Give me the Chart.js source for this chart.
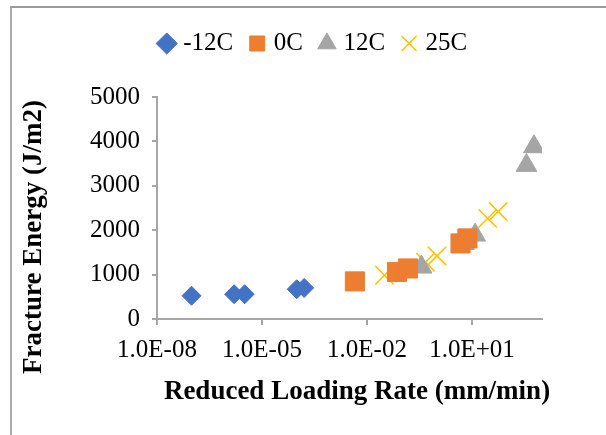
<!DOCTYPE html>
<html lang="en">
<head>
<meta charset="utf-8">
<title>Fracture Energy vs Reduced Loading Rate</title>
<script src="https://cdn.jsdelivr.net/npm/chart.js"></script>
<style>
  body { margin: 0; background: #ffffff; }
  /* thin frame like the Excel chart border */
  .frame {
    position: absolute; left: 10px; top: 6px; right: 0; bottom: 0;
    border-top: 2px solid #999999;
    border-left: 2px solid #acacac;
  }
  .chart-box { position: absolute; left: 0; top: 0; width: 606px; height: 435px; }
</style>
</head>
<body>
<div class="frame"></div>
<div class="chart-box"><canvas id="feChart"></canvas></div>

<script>
// values (x = reduced loading rate, y = fracture energy)
const seriesNames = ['-12C', '0C', '12C', '25C'];

const rateM12 = [9.7e-8, 1.6e-6, 3.2e-6, 9.8e-5, 1.6e-4];
const energyM12 = [524, 558, 558, 670, 700];

const rate0 = [0.0045, 0.072, 0.148, 4.7, 7.4];
const energy0 = [847, 1061, 1138, 1702, 1815];

const rate12 = [0.36, 5.9, 12.3, 360, 590];
const energy12 = [1170, 1700, 1890, 3460, 3880];

const rate25 = [0.0316, 0.47, 1.0, 28, 56];
const energy25 = [986, 1280, 1420, 2266, 2420];

const xTickValues = [1e-8, 1e-5, 1e-2, 1e1];
const xMin = 1e-8, xMax = 1e3;
const yMin = 0, yMax = 5000, yStep = 1000;

const xTitle = 'Reduced Loading Rate (mm/min)';
const yTitle = 'Fracture Energy (J/m2)';

const axisGrey = '#a6a6a6';
const serif = '"Liberation Serif", "Times New Roman", serif';

const toPoints = (xs, ys) => xs.map((x, i) => ({ x: x, y: ys[i] }));

// 1e-8 -> "1.0E-08"
function sciLabel(v) {
    const parts = Number(v).toExponential(1).split('e');
    const e = parseInt(parts[1], 10);
    return parts[0] + 'E' + (e < 0 ? '-' : '+') + String(Math.abs(e)).padStart(2, '0');
}

// extra space under the legend
const legendGap = {
    id: 'legendGap',
    beforeInit(chart) {
        const origFit = chart.legend.fit;
        chart.legend.fit = function () {
            origFit.call(this);
            this.height += 31;
        };
    }
};

// axis titles (Excel puts them slightly off the plot centre)
const axisTitles = {
    id: 'axisTitles',
    afterDraw(chart) {
        const ctx = chart.ctx;
        ctx.save();
        ctx.font = 'bold 27px ' + serif;
        ctx.fillStyle = '#000000';
        ctx.textAlign = 'center';
        ctx.textBaseline = 'alphabetic';
        ctx.fillText(xTitle, 357, 399);
        ctx.translate(41, 237);
        ctx.rotate(-Math.PI / 2);
        ctx.fillText(yTitle, 0, 0);
        ctx.restore();
    }
};

const ctx = document.getElementById('feChart').getContext('2d');

new Chart(ctx, {
    type: 'scatter',
    data: {
        datasets: [{
            label: seriesNames[0],
            data: toPoints(rateM12, energyM12),
            pointStyle: 'rectRot',
            pointRadius: 9.5,
            pointHoverRadius: 9.5,
            backgroundColor: '#4472c4',
            borderColor: '#4472c4',
            borderWidth: 1
        }, {
            label: seriesNames[1],
            data: toPoints(rate0, energy0),
            pointStyle: 'rect',
            pointRadius: 13.5,
            pointHoverRadius: 13.5,
            backgroundColor: '#ed7d31',
            borderColor: '#ed7d31',
            borderWidth: 1
        }, {
            label: seriesNames[2],
            data: toPoints(rate12, energy12),
            pointStyle: 'triangle',
            pointRadius: 12,
            pointHoverRadius: 12,
            backgroundColor: '#a5a5a5',
            borderColor: '#a5a5a5',
            borderWidth: 1
        }, {
            label: seriesNames[3],
            data: toPoints(rate25, energy25),
            pointStyle: 'crossRot',
            pointRadius: 13,
            pointHoverRadius: 13,
            backgroundColor: '#ffc000',
            borderColor: '#ffc000',
            borderWidth: 1.5
        }]
    },
    options: {
        responsive: true,
        maintainAspectRatio: false,
        animation: false,
        layout: { padding: { left: 24, right: 0, top: 11, bottom: 0 } },
        plugins: {
            legend: {
                position: 'top',
                labels: {
                    usePointStyle: true,
                    boxWidth: 8,
                    boxHeight: 15,
                    padding: 20,
                    color: '#000000',
                    font: { family: serif, size: 25 }
                }
            },
            tooltip: { enabled: false }
        },
        scales: {
            x: {
                type: 'logarithmic',
                position: 'bottom',
                min: xMin,
                max: xMax,
                afterBuildTicks: (scale) => {
                    scale.ticks = xTickValues.map(v => ({ value: v, major: true }));
                },
                afterFit: (scale) => { scale.height = 116; },
                ticks: {
                    callback: (v) => sciLabel(v),
                    autoSkip: false,
                    maxRotation: 0,
                    padding: 10,
                    color: '#000000',
                    font: { family: serif, size: 25 }
                },
                grid: {
                    drawOnChartArea: false,
                    tickLength: 6,
                    color: axisGrey,
                    lineWidth: 2
                },
                border: { color: axisGrey, width: 2 }
            },
            y: {
                type: 'linear',
                position: 'left',
                min: yMin,
                max: yMax,
                afterFit: (scale) => { scale.width = 133; },
                ticks: {
                    stepSize: yStep,
                    callback: (v) => String(v),
                    padding: 12,
                    color: '#000000',
                    font: { family: serif, size: 25 }
                },
                grid: {
                    drawOnChartArea: false,
                    tickLength: 5,
                    color: axisGrey,
                    lineWidth: 2
                },
                border: { color: axisGrey, width: 2 }
            },
            // empty right-hand axis, only keeps the plot narrower than the legend row
            y2: {
                type: 'linear',
                position: 'right',
                afterFit: (scale) => { scale.width = 64; },
                ticks: { display: false },
                grid: { display: false },
                border: { display: false }
            }
        }
    },
    plugins: [legendGap, axisTitles]
});
</script>
</body>
</html>
